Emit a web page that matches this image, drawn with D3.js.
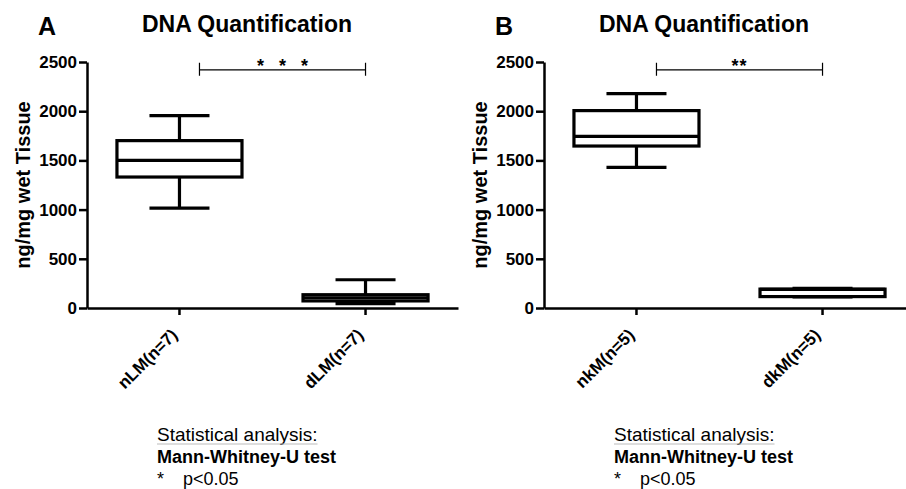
<!DOCTYPE html>
<meta charset="utf-8">
<style>
body { margin: 0; background: #fff; }
svg { font-family: "Liberation Sans", Arial, sans-serif; }
.axis path, .axis line { stroke: #000; stroke-width: 2.5; fill: none; }
.axis text { font-size: 17px; font-weight: bold; fill: #000; }
.box { stroke: #000; stroke-width: 3.2; fill: none; }
</style>
<body>
<script src="https://cdnjs.cloudflare.com/ajax/libs/d3/7.8.5/d3.min.js"></script>
<script>
// data
var categoriesA = ["nLM(n=7)", "dLM(n=7)"];
var minA = [1016, 45], q1A = [1331, 72], medA = [1500, 104], q3A = [1701, 135], maxA = [1955, 287];

var categoriesB = ["nkM(n=5)", "dkM(n=5)"];
var minB = [1430, 112], q1B = [1646, 116], medB = [1745, 190], q3B = [2006, 192], maxB = [2179, 200];

var yTicks = [0, 500, 1000, 1500, 2000, 2500];
var bracketValue = 2420;

var width = 906, height = 489;
var svg = d3.select("body").append("svg")
    .attr("width", width)
    .attr("height", height);

var y = d3.scaleLinear().domain([0, 2500]).range([308, 62]);

function panel(ox, letter, cats, mins, q1s, meds, q3s, maxs, stars, starSpacing) {
  var g = svg.append("g").attr("transform", "translate(" + ox + ",0)");

  var x = d3.scaleBand().domain(cats).range([0, 371])
      .paddingInner(0.328).paddingOuter(0.161).align(0.5);
  var bw = x.bandwidth(), capW = bw * 0.48;

  g.append("text")
      .attr("x", -49).attr("y", 35)
      .style("font-size", "25px").style("font-weight", "bold")
      .text(letter);

  g.append("text")
      .attr("x", 160).attr("y", 32)
      .attr("text-anchor", "middle")
      .style("font-size", "23px").style("font-weight", "bold")
      .text("DNA Quantification");

  // y axis
  g.append("g")
      .attr("class", "axis")
      .call(d3.axisLeft(y).tickValues(yTicks).tickFormat(d3.format("d"))
        .tickSize(8).tickPadding(2).tickSizeOuter(0));

  g.append("text")
      .attr("transform", "translate(-57," + (y(0) + y(2500)) / 2 + ") rotate(-90)")
      .attr("text-anchor", "middle")
      .style("font-size", "20px").style("font-weight", "bold")
      .text("ng/mg wet Tissue");

  // x axis
  var xa = g.append("g")
      .attr("class", "axis")
      .attr("transform", "translate(0," + y(0) + ")")
      .call(d3.axisBottom(x).tickSize(7).tickSizeOuter(0));
  xa.selectAll(".tick text")
      .attr("x", 0).attr("y", 0).attr("dy", 0)
      .attr("text-anchor", "end")
      .attr("transform", "translate(-1,28) rotate(-45)");

  // boxes
  var data = cats.map(function(c, i) {
    return {cat: c, min: mins[i], q1: q1s[i], med: meds[i], q3: q3s[i], max: maxs[i]};
  });
  var b = g.selectAll(".bx").data(data).enter().append("g")
      .attr("transform", function(d) { return "translate(" + (x(d.cat) + bw / 2) + ",0)"; });

  b.append("line").attr("class", "box")
      .attr("x1", 0).attr("x2", 0)
      .attr("y1", function(d) { return y(d.max); })
      .attr("y2", function(d) { return y(d.min); });
  b.append("line").attr("class", "box")
      .attr("x1", -capW / 2).attr("x2", capW / 2)
      .attr("y1", function(d) { return y(d.max); })
      .attr("y2", function(d) { return y(d.max); });
  b.append("line").attr("class", "box")
      .attr("x1", -capW / 2).attr("x2", capW / 2)
      .attr("y1", function(d) { return y(d.min); })
      .attr("y2", function(d) { return y(d.min); });
  b.append("rect").attr("class", "box")
      .style("fill", "#fff")
      .attr("x", -bw / 2).attr("width", bw)
      .attr("y", function(d) { return y(d.q3); })
      .attr("height", function(d) { return y(d.q1) - y(d.q3); });
  b.append("line").attr("class", "box")
      .attr("x1", -bw / 2).attr("x2", bw / 2)
      .attr("y1", function(d) { return y(d.med); })
      .attr("y2", function(d) { return y(d.med); });

  // significance bracket
  var bx1 = x(cats[0]) + bw / 2 + 20, bx2 = x(cats[1]) + bw / 2, by = y(bracketValue);
  g.append("path")
      .attr("d", "M" + bx1 + "," + (by - 7) + "V" + (by + 6) + "M" + bx1 + "," + by + "H" + bx2 +
                 "M" + bx2 + "," + (by - 7) + "V" + (by + 6))
      .attr("stroke", "#000").attr("stroke-width", 1.2).attr("fill", "none");
  g.append("text")
      .attr("x", (bx1 + bx2) / 2).attr("y", by + 2)
      .attr("text-anchor", "middle")
      .style("font-size", "18px").style("font-weight", "bold")
      .style("word-spacing", starSpacing + "px")
      .style("letter-spacing", stars.length == 2 ? "1px" : "0px")
      .text(stars);

  // statistics note
  var t = g.append("text").attr("x", 70).attr("y", 441)
      .style("font-size", "19px").text("Statistical analysis:");
  var tw = t.node().getComputedTextLength();
  g.append("line")
      .attr("x1", 70).attr("x2", 70 + tw)
      .attr("y1", 444).attr("y2", 444)
      .attr("stroke", "#bbb").attr("stroke-width", 1);
  g.append("text").attr("x", 70).attr("y", 463)
      .style("font-size", "18px").style("font-weight", "bold")
      .text("Mann-Whitney-U test");
  g.append("text").attr("x", 70).attr("y", 485)
      .style("font-size", "18px").text("*");
  g.append("text").attr("x", 96).attr("y", 485)
      .style("font-size", "18px").text("p<0.05");
}

panel(87, "A", categoriesA, minA, q1A, medA, q3A, maxA, "* * *", 10);
panel(544, "B", categoriesB, minB, q1B, medB, q3B, maxB, "**", 0);
</script>
</body>
</html>
